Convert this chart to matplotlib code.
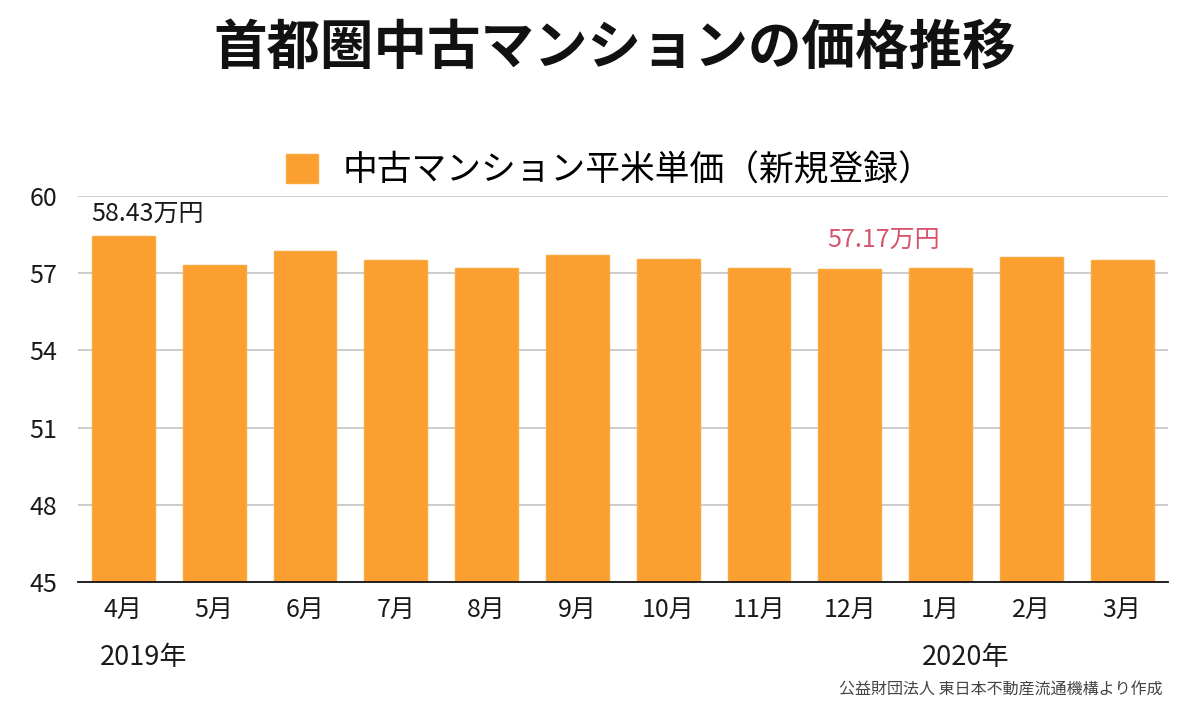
import matplotlib.pyplot as plt
import numpy as np

plt.rcParams['font.family'] = ['Noto Sans CJK JP', 'DejaVu Sans']

# data (万円 per m2)
months = ['4月', '5月', '6月', '7月', '8月', '9月', '10月', '11月', '12月', '1月', '2月', '3月']
price = [58.43, 57.30, 57.87, 57.52, 57.20, 57.72, 57.57, 57.20, 57.17, 57.20, 57.61, 57.51]
yticks = [45, 48, 51, 54, 57, 60]
series_name = '中古マンション平米単価（新規登録）'

fig = plt.figure(figsize=(12, 7.05), dpi=100)
ax = fig.add_axes([0.065, 0.1745, 0.908, 0.5475])

x = np.arange(len(months))
ax.bar(x, price, width=0.69, color='#fba030', edgecolor='#f9a93f', linewidth=1,
       zorder=3, label=series_name)

ax.set_xlim(-0.5, len(months) - 0.5)
ax.set_ylim(45, 60)
ax.set_yticks(yticks)
ax.set_xticks(x)
ax.set_xticklabels(months)
ax.tick_params(axis='both', length=0, labelsize=18, colors='#1a1a1a')
ax.tick_params(axis='y', pad=15)
ax.tick_params(axis='x', pad=11)
ax.grid(axis='y', color='#c4c4c4', linewidth=1.2, zorder=0)
for s in ['top', 'right', 'left']:
    ax.spines[s].set_visible(False)
ax.spines['bottom'].set_color('#111111')
ax.spines['bottom'].set_linewidth(1.3)
ax.spines['bottom'].set_zorder(4)

# value labels
ax.text(-0.35, price[0] + 0.38, '58.43万円', fontsize=18, color='#1a1a1a',
        ha='left', va='bottom')
ax.text(8.37, price[8] + 0.62, '57.17万円', fontsize=18, color='#d6546c',
        ha='center', va='bottom')

# title, legend, years, source
fig.text(0.512, 0.932, '首都圏中古マンションの価格推移', fontsize=38.5, weight='bold',
         ha='center', va='center', color='#111111')
leg = fig.legend(loc='center', bbox_to_anchor=(0.508, 0.757), frameon=False,
                 fontsize=25, handlelength=0.92, handleheight=0.92, handletextpad=0.7)
fig.text(0.083, 0.068, '2019年', fontsize=19.5, ha='left', va='center', color='#1a1a1a')
fig.text(0.768, 0.068, '2020年', fontsize=19.5, ha='left', va='center', color='#1a1a1a')
fig.text(0.969, 0.022, '公益財団法人 東日本不動産流通機構より作成', fontsize=11.5,
         ha='right', va='center', color='#444444')

fig.savefig('out.png', dpi=100)
